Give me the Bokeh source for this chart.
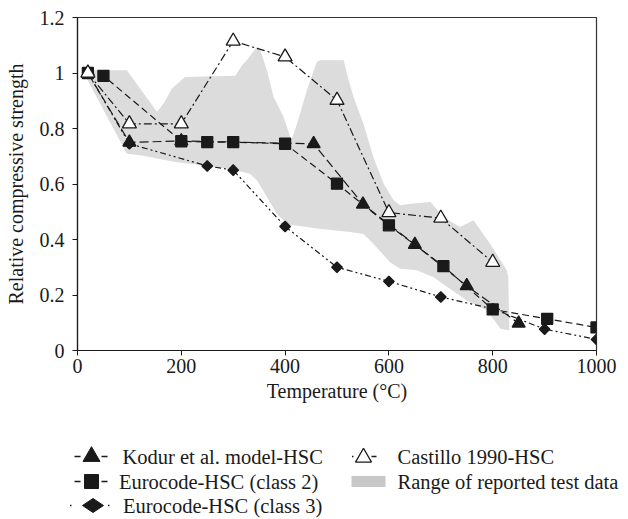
import math
from bokeh.plotting import figure
from bokeh.models import Range1d, FixedTicker, CustomJSTickFormatter
from bokeh.core.properties import value
from bokeh.embed import file_html
from bokeh.resources import INLINE

FONT = "Liberation Serif"

# Kodur et al. model for high-strength concrete
kodur_T = [20, 100, 200, 455, 550, 650, 750, 850]
kodur_f = [1.0, 0.75, 0.755, 0.745, 0.527, 0.382, 0.233, 0.098]

# Eurocode HSC, class 2
ec2_T = [20, 50, 200, 250, 300, 400, 500, 600, 705, 800, 905, 1000]
ec2_f = [1.0, 0.99, 0.754, 0.751, 0.751, 0.745, 0.601, 0.451, 0.304, 0.148, 0.114, 0.083]

# Eurocode HSC, class 3
ec3_T = [20, 100, 250, 300, 400, 500, 600, 700, 800, 900, 1000]
ec3_f = [1.0, 0.745, 0.665, 0.65, 0.447, 0.30, 0.249, 0.193, 0.15, 0.077, 0.04]

# Castillo 1990 test results
castillo_T = [20, 100, 200, 300, 400, 500, 600, 700, 800]
castillo_f = [1.0, 0.817, 0.817, 1.115, 1.058, 0.902, 0.497, 0.477, 0.318]

# Envelope of reported test data (upper and lower bounds)
band_upper_T = [15, 95, 153, 166, 182, 207, 304, 317, 326, 346, 351, 365, 378, 397,
                410, 413, 423, 442, 461, 468, 513, 519, 532, 551, 570, 590, 609,
                622, 641, 680, 705, 737, 763, 795, 827, 830, 832]
band_upper_f = [1.01, 1.01, 0.86, 0.89, 0.944, 0.986, 0.99, 1.028, 1.046, 1.094, 1.088,
                1.01, 0.913, 0.841, 0.769, 0.763, 0.817, 0.938, 1.04, 1.046, 1.046,
                0.998, 0.913, 0.817, 0.697, 0.601, 0.541, 0.523, 0.529, 0.535, 0.481,
                0.445, 0.469, 0.385, 0.289, 0.264, 0.072]
band_lower_T = [15, 95, 124, 188, 246, 291, 332, 346, 365, 385, 405, 461, 525, 551,
                570, 602, 622, 654, 686, 718, 750, 789, 815]
band_lower_f = [0.99, 0.709, 0.703, 0.679, 0.667, 0.655, 0.637, 0.613, 0.553, 0.49,
                0.455, 0.44, 0.427, 0.42, 0.385, 0.318, 0.295, 0.289, 0.264, 0.222,
                0.18, 0.144, 0.078]

x_ticks = [0, 200, 400, 600, 800, 1000]
y_ticks = [0, 0.2, 0.4, 0.6, 0.8, 1.0, 1.2]

legend_labels = ["Kodur et al. model-HSC", "Eurocode-HSC (class 2)",
                 "Eurocode-HSC (class 3)", "Castillo 1990-HSC",
                 "Range of reported test data"]

BAND = "#dcdcdc"
INK = "#1a1a1a"

styles = {
    "kodur": dict(dash="9 4", marker="triangle", size=13, angle=0, fill=INK),
    "ec2": dict(dash="7 4", marker="square", size=11, angle=0, fill=INK),
    "ec3": dict(dash="6 3 2 3 2 3", marker="square", size=7.5, angle=math.pi / 4, fill=INK),
    "castillo": dict(dash="8 3 2 3", marker="triangle", size=14, angle=0, fill="white"),
}

p = figure(width=628, height=415, x_range=Range1d(0, 1000), y_range=Range1d(0, 1.2),
           output_backend="svg", toolbar_location=None,
           min_border_left=77, min_border_right=32, min_border_top=17, min_border_bottom=65)
p.xgrid.grid_line_color = None
p.ygrid.grid_line_color = None
p.outline_line_color = "#333333"
p.outline_line_width = 1.2

p.patch(band_upper_T + band_lower_T[::-1], band_upper_f + band_lower_f[::-1],
        fill_color=BAND, line_color=None)

series = [("kodur", kodur_T, kodur_f), ("ec2", ec2_T, ec2_f),
          ("ec3", ec3_T, ec3_f), ("castillo", castillo_T, castillo_f)]
for key, xs, ys in series:
    st = styles[key]
    p.line(xs, ys, line_color=INK, line_width=1.2, line_dash=st["dash"])
for key, xs, ys in series:
    st = styles[key]
    p.scatter(xs, ys, marker=st["marker"], size=st["size"], angle=st["angle"],
              fill_color=st["fill"], line_color=INK, line_width=1.3)

p.xaxis.ticker = FixedTicker(ticks=x_ticks)
p.yaxis.ticker = FixedTicker(ticks=y_ticks)
p.yaxis.formatter = CustomJSTickFormatter(code="return String(Math.round(tick * 10) / 10);")
p.xaxis.axis_label = "Temperature (°C)"
p.yaxis.axis_label = "Relative compressive strength"
for ax in (p.xaxis[0], p.yaxis[0]):
    ax.axis_line_color = INK
    ax.axis_line_width = 1.2
    ax.major_tick_line_color = INK
    ax.major_tick_in = 0
    ax.major_tick_out = 5
    ax.minor_tick_line_color = None
    ax.major_label_text_font = FONT
    ax.major_label_text_font_size = "20px"
    ax.major_label_text_color = INK
    ax.axis_label_text_font = FONT
    ax.axis_label_text_font_size = "20px"
    ax.axis_label_text_font_style = "normal"
    ax.axis_label_text_color = INK
p.xaxis.major_label_standoff = 3
p.xaxis.axis_label_standoff = 4
p.yaxis.major_label_standoff = 8
p.yaxis.axis_label_standoff = 10

# Legend panel drawn in pixel coordinates below the chart
lg = figure(width=628, height=104, x_range=Range1d(0, 628), y_range=Range1d(104, 0),
            output_backend="svg", toolbar_location=None, min_border=0)
lg.xaxis.visible = False
lg.yaxis.visible = False
lg.xgrid.grid_line_color = None
lg.ygrid.grid_line_color = None
lg.outline_line_color = None

rows = [41, 66, 90]

# short stroke pieces on either side of each legend marker
lg.segment(x0=[74, 101, 74, 101, 69.5, 107.5, 351.5, 371],
           y0=[rows[0], rows[0], rows[1], rows[1], rows[2], rows[2], rows[0], rows[0]],
           x1=[80, 107, 80, 107, 71, 109, 353, 376],
           y1=[rows[0], rows[0], rows[1], rows[1], rows[2], rows[2], rows[0], rows[0]],
           line_color=INK, line_width=1.3)

lg.scatter([91], [rows[0]], marker="triangle", size=17, fill_color=INK, line_color=INK)
lg.scatter([91], [rows[1]], marker="square", size=14, fill_color=INK, line_color=INK)
lg.scatter([92.5], [rows[2]], marker="diamond", size=21, angle=math.pi / 2,
           fill_color=INK, line_color=INK)
lg.scatter([363], [rows[0] + 1], marker="triangle", size=16, fill_color="white",
           line_color=INK, line_width=1.3)
lg.quad(left=[351], right=[385], top=[rows[1] - 5.5], bottom=[rows[1] + 5.5],
        fill_color="#c8c8c8", line_color=None)

lg.text(x=[122, 118.5, 122.5, 397, 397], y=rows + rows[:2], text=legend_labels,
        text_font=value(FONT), text_font_size="20.5px", text_color=INK,
        text_baseline="middle", text_align="left")

open("out.html", "w").write(file_html([p, lg], INLINE))
